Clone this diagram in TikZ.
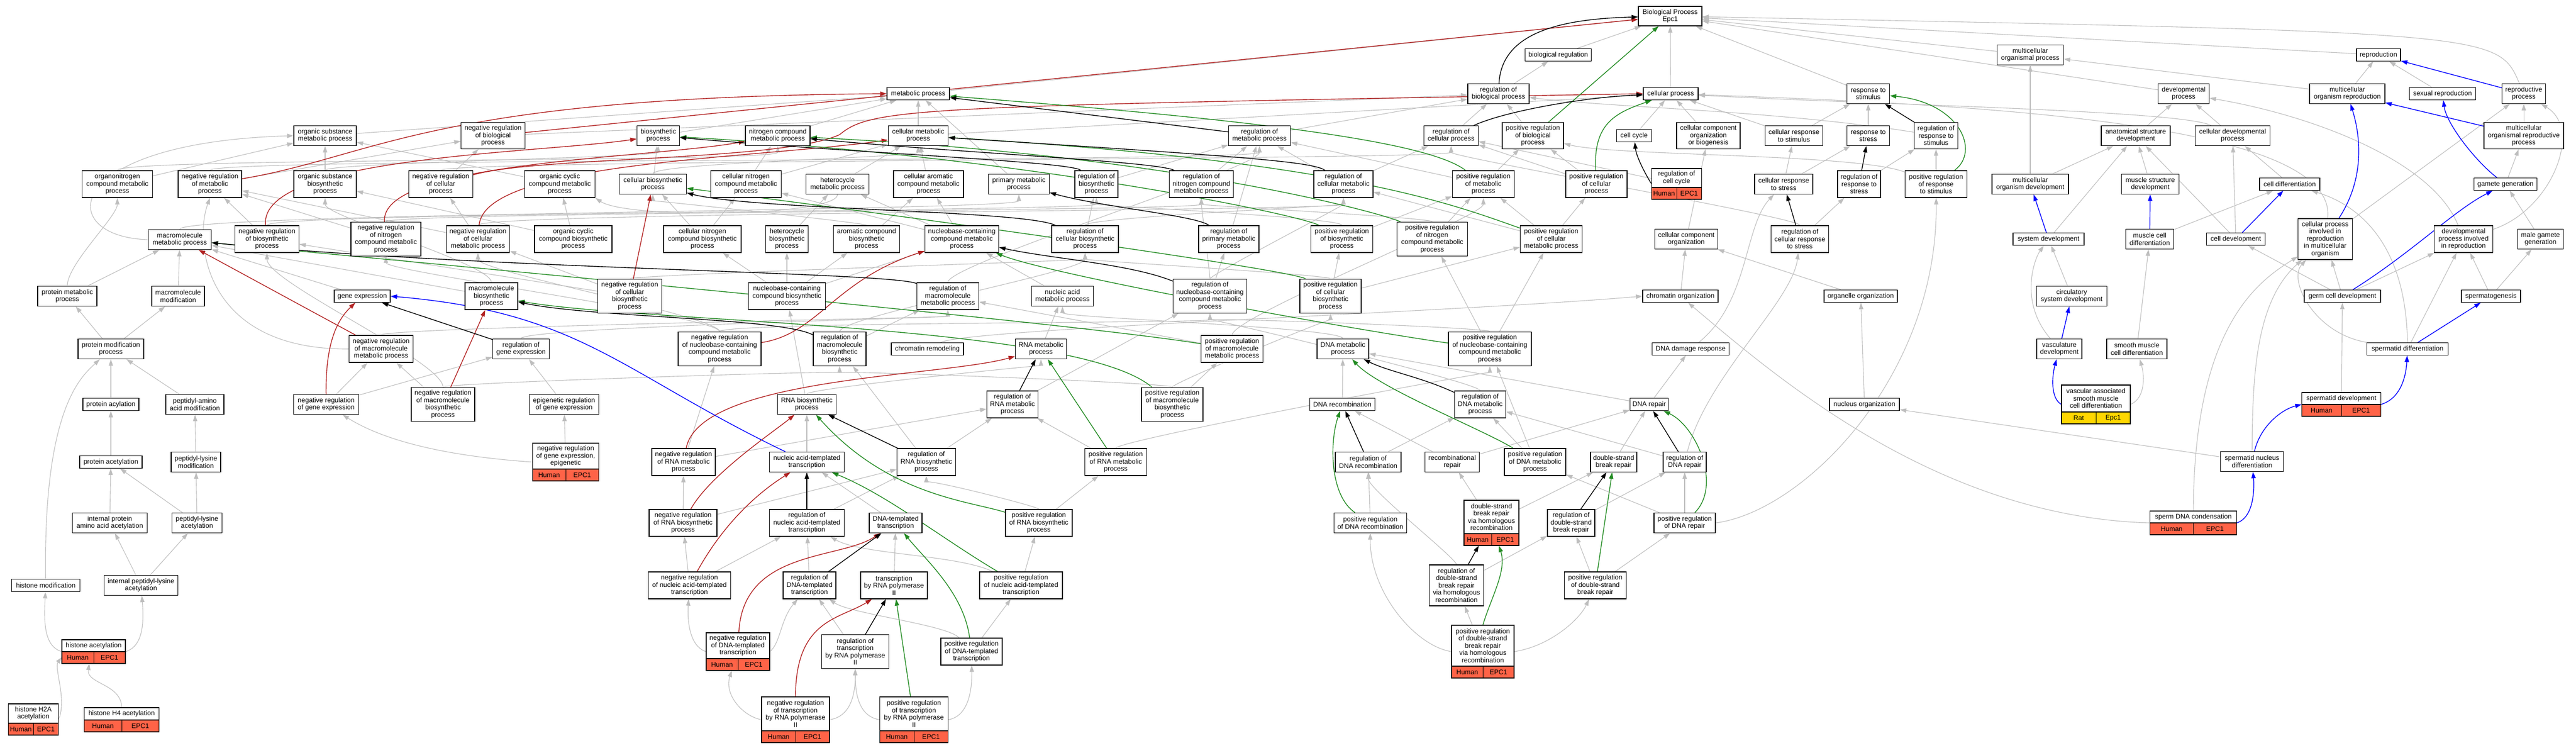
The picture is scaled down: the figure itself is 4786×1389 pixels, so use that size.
\documentclass[tikz,border=0pt]{standalone}
\usepackage{fontspec}
\setmainfont{Liberation Sans}
\usetikzlibrary{arrows.meta}
\pgfdeclarelayer{bg}
\pgfsetlayers{bg,main}
\definecolor{egray}{RGB}{190,190,190}
\definecolor{ered}{RGB}{178,34,34}
\definecolor{egreen}{RGB}{34,139,34}
\definecolor{eblue}{RGB}{0,0,255}
\definecolor{gtom}{RGB}{255,99,71}
\definecolor{ggold}{RGB}{255,215,0}
\newcommand\fs{\fontsize{12.5}{13.5}\selectfont}
\tikzset{
 gobox/.style={draw=black, line width=1.3pt, fill=white, inner sep=2pt, align=center, font=\fs},
 sgray/.style={draw=egray, line width=1.1pt, -{Triangle[length=12pt,width=8pt]}},
 sred/.style={draw=ered, line width=1.4pt, -{Triangle[length=12pt,width=8pt]}},
 sgreen/.style={draw=egreen, line width=1.4pt, -{Triangle[length=12pt,width=8pt]}},
 sblack/.style={draw=black, line width=1.4pt, -{Triangle[length=12pt,width=8pt]}},
 sblue/.style={draw=eblue, line width=1.4pt, -{Triangle[length=12pt,width=8pt]}},
}
\newcommand\nd[6]{\node[gobox,minimum width=#4,minimum height=#5] (#1) at (#2,#3) {#6};}
\newcommand\GN[9][gtom]{%
 \pgfmathsetmacro\gnH{#7-#6}%
 \pgfmathsetmacro\gnY{(#6+#7)/2}%
 \pgfmathsetmacro\gnS{#7-22}%
 \pgfmathsetmacro\gnL{#5-#8/2}%
 \pgfmathsetmacro\gnR{#5+#8/2}%
 \pgfmathsetmacro\gnT{(#6+#7-22)/2}%
 \pgfmathsetmacro\gnA{#5-#8/4}%
 \pgfmathsetmacro\gnB{#5+#8/4}%
 \pgfmathsetmacro\gnC{#7-11}%
 \node[inner sep=0,minimum width=#8,minimum height=\gnH] (#4) at (#5,\gnY) {};
 \fill[white] (\gnL,#6) rectangle (\gnR,\gnS);
 \fill[#1] (\gnL,\gnS) rectangle (\gnR,#7);
 \draw[line width=1.3pt] (\gnL,#6) rectangle (\gnR,#7);
 \draw[line width=1.3pt] (\gnL,\gnS) -- (\gnR,\gnS);
 \draw[line width=1pt] (#5,\gnS) -- (#5,#7);
 \node[font=\fs,align=center,inner sep=0] at (#5,\gnT) {#9};
 \node[font=\fs,inner sep=0] at (\gnA,\gnC) {#2};
 \node[font=\fs,inner sep=0] at (\gnB,\gnC) {#3};
}
\newcommand\eS[2]{\draw[sgray] (#1) -- (#2);}
\newcommand\eC[3]{\draw[sgray] (#1) .. controls +(0,-#3) and +(0,#3) .. (#2);}
\begin{document}
\begin{tikzpicture}[x=1pt,y=-1pt]
\useasboundingbox (0,0) rectangle (4786,1389);
% ---------------- nodes ----------------
\nd{BP}{3103}{30}{118}{36}{Biological Process\\Epc1}
\nd{breg}{2895}{102}{123}{23}{biological regulation}
\nd{mop}{3772}{102}{123}{37}{multicellular\\organismal process}
\nd{repro}{4419}{102}{82}{23}{reproduction}
\nd{metab}{1706}{174}{116}{23}{metabolic process}
\nd{regbp}{2784}{174}{114}{37}{regulation of\\biological process}
\nd{cellp}{3104}{174}{102}{23}{cellular process}
\nd{resp}{3471}{174}{79}{37}{response to\\stimulus}
\nd{dev}{4057}{174}{95}{37}{developmental\\process}
\nd{mor}{4361}{174}{140}{37}{multicellular\\organism reproduction}
\nd{sexr}{4538}{174}{123}{23}{sexual reproduction}
\nd{reprop}{4689}{174}{81}{37}{reproductive\\process}
\nd{osmp}{604}{252}{116}{37}{organic substance\\metabolic process}
\nd{nrbp}{916}{252}{119}{49}{negative regulation\\of biological\\process}
\nd{bios}{1223}{252}{79}{37}{biosynthetic\\process}
\nd{ncmp}{1445}{252}{120}{37}{nitrogen compound\\metabolic process}
\nd{cmp}{1706}{252}{111}{37}{cellular metabolic\\process}
\nd{regmp}{2340}{252}{115}{37}{regulation of\\metabolic process}
\nd{regcp}{2696}{252}{101}{37}{regulation of\\cellular process}
\nd{prbp}{2848}{252}{114}{49}{positive regulation\\of biological\\process}
\nd{cc}{3036}{252}{65}{23}{cell cycle}
\nd{ccob}{3174}{252}{118}{49}{cellular component\\organization\\or biogenesis}
\nd{crs}{3333}{252}{107}{37}{cellular response\\to stimulus}
\nd{rts}{3471}{252}{79}{37}{response to\\stress}
\nd{regrs}{3597}{252}{81}{49}{regulation of\\response to\\stimulus}
\nd{asd}{3968}{252}{128}{37}{anatomical structure\\development}
\nd{cdp}{4148}{252}{139}{37}{cellular developmental\\process}
\nd{morp}{4689}{252}{148}{49}{multicellular\\organismal reproductive\\process}
\nd{oncmp}{218}{342}{131}{50}{organonitrogen\\compound metabolic\\process}
\nd{nrmp}{390}{342}{118}{50}{negative regulation\\of metabolic\\process}
\nd{osbp}{604}{342}{116}{50}{organic substance\\biosynthetic\\process}
\nd{nrcp}{819}{342}{119}{50}{negative regulation\\of cellular\\process}
\nd{occmp}{1040}{342}{131}{50}{organic cyclic\\compound metabolic\\process}
\nd{cbp}{1213}{342}{125}{37}{cellular biosynthetic\\process}
\nd{cncmp}{1386}{342}{131}{50}{cellular nitrogen\\compound metabolic\\process}
\nd{hmp}{1556}{342}{117}{37}{heterocycle\\metabolic process}
\nd{cacmp}{1725}{342}{130}{50}{cellular aromatic\\compound metabolic\\process}
\nd{pmp}{1893}{342}{113}{37}{primary metabolic\\process}
\nd{regbio}{2037}{342}{80}{50}{regulation of\\biosynthetic\\process}
\nd{regncmp}{2232}{342}{119}{50}{regulation of\\nitrogen compound\\metabolic process}
\nd{regcmp}{2496}{342}{110}{50}{regulation of\\cellular metabolic\\process}
\nd{prmp}{2756}{342}{115}{50}{positive regulation\\of metabolic\\process}
\nd{prcp}{2966}{342}{114}{50}{positive regulation\\of cellular\\process}
\nd{crstress}{3314}{342}{108}{37}{cellular response\\to stress}
\nd{regrstress}{3454}{342}{80}{50}{regulation of\\response to\\stress}
\nd{prrs}{3597}{342}{115}{50}{positive regulation\\of response\\to stimulus}
\nd{mod}{3772}{342}{142}{37}{multicellular\\organism development}
\nd{msd}{3995}{342}{107}{37}{muscle structure\\development}
\nd{celldiff}{4254}{342}{112}{23}{cell differentiation}
\nd{gg}{4655}{342}{117}{23}{gamete generation}
\nd{mmp}{334}{445}{117}{37}{macromolecule\\metabolic process}
\nd{nrbio}{496}{444}{119}{50}{negative regulation\\of biosynthetic\\process}
\nd{nrncmp}{717}{444}{130}{63}{negative regulation\\of nitrogen\\compound metabolic\\process}
\nd{nrcmp}{888}{444}{117}{50}{negative regulation\\of cellular\\metabolic process}
\nd{occbp}{1065}{444}{144}{50}{organic cyclic\\compound biosynthetic\\process}
\nd{cncbp}{1305}{444}{144}{50}{cellular nitrogen\\compound biosynthetic\\process}
\nd{hbp}{1462}{444}{79}{50}{heterocycle\\biosynthetic\\process}
\nd{acbp}{1610}{444}{123}{50}{aromatic compound\\biosynthetic\\process}
\nd{nbcmp}{1787}{444}{137}{50}{nucleobase-containing\\compound metabolic\\process}
\nd{regcbp}{2016}{444}{124}{50}{regulation of\\cellular biosynthetic\\process}
\nd{regpmp}{2283}{444}{112}{50}{regulation of\\primary metabolic\\process}
\nd{prbio}{2493}{444}{115}{50}{positive regulation\\of biosynthetic\\process}
\nd{prncmp}{2661}{444}{131}{63}{positive regulation\\of nitrogen\\compound metabolic\\process}
\nd{prcmp}{2882}{444}{115}{50}{positive regulation\\of cellular\\metabolic process}
\nd{cco}{3133}{444}{117}{37}{cellular component\\organization}
\nd{regcrs}{3344}{444}{107}{50}{regulation of\\cellular response\\to stress}
\nd{sysdev}{3806}{444}{132}{23}{system development}
\nd{mcd}{3994}{444}{89}{37}{muscle cell\\differentiation}
\nd{celldev}{4154}{444}{109}{23}{cell development}
\nd{cpirmo}{4320}{444}{101}{76}{cellular process\\involved in\\reproduction\\in multicellular\\organism}
\nd{dpir}{4577}{444}{109}{50}{developmental\\process involved\\in reproduction}
\nd{mgg}{4720}{444}{85}{37}{male gamete\\generation}
\nd{protmp}{125}{550}{110}{37}{protein metabolic\\process}
\nd{mmod}{331}{550}{98}{37}{macromolecule\\modification}
\nd{geneexp}{673}{550}{104}{23}{gene expression}
\nd{mbp}{913}{550}{98}{50}{macromolecule\\biosynthetic\\process}
\nd{nrcbp}{1170}{550}{119}{63}{negative regulation\\of cellular\\biosynthetic\\process}
\nd{nbcbp}{1462}{550}{143}{50}{nucleobase-containing\\compound biosynthetic\\process}
\nd{regmmp}{1761}{550}{115}{50}{regulation of\\macromolecule\\metabolic process}
\nd{nacmp}{1974}{550}{115}{37}{nucleic acid\\metabolic process}
\nd{regnbcmp}{2248}{550}{137}{63}{regulation of\\nucleobase-containing\\compound metabolic\\process}
\nd{prcbp}{2472}{550}{114}{63}{positive regulation\\of cellular\\biosynthetic\\process}
\nd{chromorg}{3122}{550}{140}{23}{chromatin organization}
\nd{orgorg}{3457}{550}{136}{23}{organelle organization}
\nd{csd}{3849}{550}{131}{37}{circulatory\\system development}
\nd{gcd}{4352}{550}{142}{23}{germ cell development}
\nd{spg}{4628}{550}{110}{23}{spermatogenesis}
\nd{pmp2}{206}{648}{122}{37}{protein modification\\process}
\nd{nrmmp}{708}{648}{119}{50}{negative regulation\\of macromolecule\\metabolic process}
\nd{reggene}{968}{648}{105}{37}{regulation of\\gene expression}
\nd{nrnbcmp}{1337}{648}{154}{63}{negative regulation\\of nucleobase-containing\\compound metabolic\\process}
\nd{regmbp}{1560}{648}{98}{63}{regulation of\\macromolecule\\biosynthetic\\process}
\nd{chromrem}{1723}{648}{134}{23}{chromatin remodeling}
\nd{rnamp}{1934}{648}{95}{37}{RNA metabolic\\process}
\nd{prmmp}{2289}{648}{115}{50}{positive regulation\\of macromolecule\\metabolic process}
\nd{dnamp}{2495}{648}{96}{37}{DNA metabolic\\process}
\nd{prnbcmp}{2768}{648}{154}{63}{positive regulation\\of nucleobase-containing\\compound metabolic\\process}
\nd{dnadr}{3141}{648}{143}{23}{DNA damage response}
\nd{vascdev}{3826}{648}{84}{37}{vasculature\\development}
\nd{smcd}{3970}{648}{112}{37}{smooth muscle\\cell differentiation}
\nd{sptdiff}{4473}{648}{151}{23}{spermatid differentiation}
\nd{protacyl}{206}{751}{104}{23}{protein acylation}
\nd{pamod}{362}{751}{108}{37}{peptidyl-amino\\acid modification}
\nd{nrge}{606}{751}{121}{37}{negative regulation\\of gene expression}
\nd{nrmbp}{823}{751}{118}{63}{negative regulation\\of macromolecule\\biosynthetic\\process}
\nd{epireg}{1048}{751}{129}{37}{epigenetic regulation\\of gene expression}
\nd{rnabp}{1499}{751}{109}{37}{RNA biosynthetic\\process}
\nd{regrnamp}{1881}{751}{95}{50}{regulation of\\RNA metabolic\\process}
\nd{prmbp}{2178}{751}{114}{63}{positive regulation\\of macromolecule\\biosynthetic\\process}
\nd{dnarec}{2494}{751}{121}{23}{DNA recombination}
\nd{regdnamp}{2750}{751}{95}{50}{regulation of\\DNA metabolic\\process}
\nd{dnarep}{3064}{751}{71}{23}{DNA repair}
\nd{nucorg}{3464}{751}{130}{23}{nucleus organization}
\nd{protacet}{206}{858}{116}{23}{protein acetylation}
\nd{plmod}{364}{858}{92}{37}{peptidyl-lysine\\modification}
\nd{nrrnamp}{1270}{858}{118}{50}{negative regulation\\of RNA metabolic\\process}
\nd{natt}{1499}{858}{139}{37}{nucleic acid-templated\\transcription}
\nd{regrnabp}{1721}{858}{109}{50}{regulation of\\RNA biosynthetic\\process}
\nd{prrnamp}{2073}{858}{115}{50}{positive regulation\\of RNA metabolic\\process}
\nd{regdnarec}{2542}{858}{122}{37}{regulation of\\DNA recombination}
\nd{recrep}{2698}{858}{101}{37}{recombinational\\repair}
\nd{prdnamp}{2852}{858}{114}{50}{positive regulation\\of DNA metabolic\\process}
\nd{dsbr}{2998}{858}{86}{37}{double-strand\\break repair}
\nd{regdnarep}{3130}{858}{80}{37}{regulation of\\DNA repair}
\nd{sndiff}{4184}{857}{117}{37}{spermatid nucleus\\differentiation}
\nd{ipaaa}{204}{971}{139}{37}{internal protein\\amino acid acetylation}
\nd{placet}{366}{971}{93}{37}{peptidyl-lysine\\acetylation}
\nd{nrrnabp}{1269}{971}{126}{50}{negative regulation\\of RNA biosynthetic\\process}
\nd{regnatt}{1499}{971}{139}{50}{regulation of\\nucleic acid-templated\\transcription}
\nd{dnatt}{1664}{971}{98}{37}{DNA-templated\\transcription}
\nd{prrnabp}{1930}{971}{124}{50}{positive regulation\\of RNA biosynthetic\\process}
\nd{prdnarec}{2546}{971}{135}{37}{positive regulation\\of DNA recombination}
\nd{regdsbr}{2919}{971}{88}{50}{regulation of\\double-strand\\break repair}
\nd{prdnarep}{3130}{971}{114}{37}{positive regulation\\of DNA repair}
\nd{histmod}{85}{1087}{127}{23}{histone modification}
\nd{iplacet}{262}{1087}{137}{37}{internal peptidyl-lysine\\acetylation}
\nd{nrnatt}{1281}{1087}{153}{50}{negative regulation\\of nucleic acid-templated\\transcription}
\nd{regdnatt}{1504}{1087}{98}{50}{regulation of\\DNA-templated\\transcription}
\nd{trpol2}{1661}{1087}{124}{50}{transcription\\by RNA polymerase\\II}
\nd{prnatt}{1897}{1087}{154}{50}{positive regulation\\of nucleic acid-templated\\transcription}
\nd{regdsbrhr}{2706}{1087}{101}{76}{regulation of\\double-strand\\break repair\\via homologous\\recombination}
\nd{prdsbr}{2964}{1087}{115}{50}{positive regulation\\of double-strand\\break repair}
\nd{regtrpol2}{1589}{1210}{125}{63}{regulation of\\transcription\\by RNA polymerase\\II}
\nd{prdnatt}{1805}{1210}{114}{50}{positive regulation\\of DNA-templated\\transcription}
% gene-annotated nodes
\GN{Human}{EPC1}{regcc}{3115}{313}{370}{93}{regulation of\\cell cycle}
\GN{Human}{EPC1}{nrgeepi}{1051}{823}{893}{123}{negative regulation\\of gene expression,\\epigenetic}
\GN[ggold]{Rat}{Epc1}{vasmc}{3894}{715}{787}{128}{vascular associated\\smooth muscle\\cell differentiation}
\GN{Human}{EPC1}{sptdev}{4350}{729}{773}{147}{spermatid development}
\GN{Human}{EPC1}{dsbrhr}{2771}{929}{1013}{102}{double-strand\\break repair\\via homologous\\recombination}
\GN{Human}{EPC1}{sdc}{4075}{949}{993}{161}{sperm DNA condensation}
\GN{Human}{EPC1}{histacet}{174}{1188}{1232}{118}{histone acetylation}
\GN{Human}{EPC1}{nrdnatt}{1371}{1175}{1245}{118}{negative regulation\\of DNA-templated\\transcription}
\GN{Human}{EPC1}{prdsbrhr}{2755}{1161}{1259}{116}{positive regulation\\of double-strand\\break repair\\via homologous\\recombination}
\GN{Human}{EPC1}{h2a}{62}{1307}{1365}{93}{histone H2A\\acetylation}
\GN{Human}{EPC1}{h4}{226}{1314}{1359}{139}{histone H4 acetylation}
\GN{Human}{EPC1}{nrtrpol2}{1478}{1294}{1379}{126}{negative regulation\\of transcription\\by RNA polymerase\\II}
\GN{Human}{EPC1}{prtrpol2}{1698}{1294}{1379}{127}{positive regulation\\of transcription\\by RNA polymerase\\II}
% ---------------- edges ----------------
\begin{pgfonlayer}{bg}
\fill[white] (0,0) rectangle (4786,1389);
% grey: top
\eS{breg}{BP}\eS{cellp}{BP}\eS{resp}{BP}\eS{metab}{BP}\eS{mop}{BP}\eS{dev}{BP}\eS{repro}{BP}
\draw[sgray] (reprop) .. controls (4640,60) .. (BP);
\eS{regbp}{breg}\eS{mor}{repro}\eS{sexr}{repro}\eS{mor}{mop}
\eS{osmp}{metab}\eS{bios}{metab}\eS{ncmp}{metab}\eS{cmp}{metab}\eS{pmp}{metab}\eS{cmp}{cellp}
\eS{regmp}{regbp}\eS{regcp}{regbp}\eS{prbp}{regbp}\eS{nrbp}{regbp}
\draw[sgray] (regrs) .. controls (3300,205) and (3000,200) .. (regbp);
\eS{cc}{cellp}\eS{ccob}{cellp}\eS{crs}{cellp}\eS{crs}{resp}\eS{rts}{resp}
\draw[sgray] (cdp) .. controls (4050,205) and (3500,195) .. (cellp);
\eS{asd}{dev}\eS{cdp}{dev}\eS{morp}{reprop}
% grey: row 342
\eS{oncmp}{osmp}\eC{oncmp}{ncmp}{50}
\eC{nrmp}{regmp}{50}\eS{nrmp}{nrbp}
\eS{osbp}{osmp}\eC{osbp}{bios}{40}
\eC{nrcp}{regcp}{45}\eS{nrcp}{nrbp}
\eS{occmp}{osmp}\eS{cbp}{bios}\eC{cbp}{cmp}{40}
\eS{cncmp}{ncmp}\eS{cncmp}{cmp}\eS{hmp}{cmp}
\draw[sgray] (hmp.south) .. controls +(0,40) and +(60,40) .. (occmp.south east);
\eS{cacmp}{cmp}
\eS{regbio}{regmp}\eS{regncmp}{regmp}\eS{regcmp}{regmp}\eS{regcmp}{regcp}
\eS{prmp}{regmp}\eS{prmp}{prbp}\eS{prcp}{prbp}\eS{prcp}{regcp}\eS{regcc}{regcp}
\eS{crstress}{crs}\eS{crstress}{rts}\eS{regrstress}{regrs}\eS{prrs}{regrs}
\draw[sgray] (prrs) .. controls (3450,285) and (3000,290) .. (prbp);
\eS{mod}{mop}\eS{mod}{asd}\eS{msd}{asd}\eS{celldiff}{cdp}\eS{gg}{morp}
% grey: row 444
\draw[sgray] (mmp.west) .. controls (100,440) and (110,265) .. (osmp.west);
\eC{mmp}{pmp}{50}
\eS{nrbio}{nrmp}\eC{nrbio}{regbio}{50}
\eS{nrncmp}{nrmp}\eC{nrncmp}{regncmp}{50}
\eS{nrcmp}{nrcp}\eS{nrcmp}{nrmp}\eC{nrcmp}{regcmp}{50}
\eS{occbp}{occmp}\eS{occbp}{osbp}
\eS{cncbp}{cncmp}\eS{cncbp}{cbp}\eS{hbp}{hmp}
\eS{acbp}{cacmp}\eC{acbp}{cbp}{30}
\eS{nbcmp}{cncmp}\eS{nbcmp}{hmp}\eS{nbcmp}{cacmp}
\eS{regcbp}{regbio}\eC{regcbp}{regcmp}{40}\eS{regpmp}{regmp}
\eC{prbio}{regbio}{40}\eS{prbio}{prmp}
\eC{prncmp}{regncmp}{40}\eS{prncmp}{prmp}
\eS{prcmp}{prcp}\eS{prcmp}{prmp}\eS{prcmp}{regcmp}
\eS{cco}{ccob}\eS{regcrs}{regrstress}\eC{regcrs}{regcp}{40}
\eS{sysdev}{asd}\eS{mcd}{celldiff}\eS{celldev}{asd}\eS{celldev}{cdp}
\draw[sgray] (cpirmo) .. controls (4345,230) and (3700,195) .. (cellp);
\eS{cpirmo}{reprop}
\draw[sgray] (dpir) .. controls (4520,300) and (4300,215) .. (dev);
\draw[sgray] (dpir) .. controls (4740,390) and (4800,240) .. (reprop);
\eS{mgg}{gg}
% grey: row 550
\eS{protmp}{mmp}\eC{protmp}{oncmp}{60}
\eS{mmod}{mmp}\eS{geneexp}{mmp}\eS{mbp}{mmp}\eC{mbp}{osbp}{60}
\eS{nrcbp}{nrbio}\eS{nrcbp}{nrcmp}\eC{nrcbp}{regcbp}{40}
\eS{nbcbp}{cncbp}\eS{nbcbp}{hbp}\eS{nbcbp}{acbp}\eS{nbcbp}{nbcmp}
\eC{regmmp}{regmp}{60}\eS{nacmp}{nbcmp}
\eS{regnbcmp}{regpmp}\eC{regnbcmp}{regcmp}{40}\eC{regnbcmp}{regncmp}{40}
\eS{prcbp}{prbio}\eS{prcbp}{prcmp}\eC{prcbp}{regcbp}{40}
\eS{chromorg}{cco}\eS{orgorg}{cco}\eS{csd}{sysdev}
\eS{gcd}{celldev}\eS{gcd}{cpirmo}\eS{gcd}{dpir}\eS{spg}{dpir}\eS{spg}{mgg}
% grey: row 648
\eS{pmp2}{mmod}\eS{pmp2}{protmp}
\draw[sgray] (nrmmp.west) .. controls (380,650) and (360,450) .. (nrmp.south);
\eC{nrmmp}{regmmp}{40}\eC{reggene}{regmmp}{40}
\eC{nrnbcmp}{nrncmp}{60}\eC{nrnbcmp}{nrcmp}{60}\eC{nrnbcmp}{regnbcmp}{50}
\eS{regmbp}{regmmp}\eC{regmbp}{regcbp}{60}
\draw[sgray] (chromrem) .. controls (1800,610) and (2700,580) .. (chromorg.west);
\eS{rnamp}{nacmp}\eS{prmmp}{regmmp}\eC{prmmp}{prmp}{60}
\eC{dnamp}{nacmp}{40}
\eC{prnbcmp}{regnbcmp}{40}\eS{prnbcmp}{prcmp}\eS{prnbcmp}{prncmp}
\draw[sgray] (dnadr) .. controls (3250,560) and (3240,420) .. (crstress);
\draw[sgray] (vascdev) .. controls (3750,560) and (3780,480) .. (sysdev);
\eS{smcd}{mcd}
\draw[sgray] (sptdiff) .. controls (4470,450) and (4380,380) .. (celldiff);
\draw[sgray] (sptdiff) .. controls (4300,620) and (4250,520) .. (cpirmo);
\eS{sptdiff}{dpir}
% grey: row 751
\eS{protacyl}{pmp2}\eS{pamod}{pmp2}\eS{nrge}{reggene}\eS{nrge}{nrmmp}
\eS{nrmbp}{nrmmp}\eC{nrmbp}{nrbio}{80}\eC{nrmbp}{regmbp}{40}
\eS{epireg}{reggene}\eS{rnabp}{nbcbp}\eC{rnabp}{rnamp}{30}
\eS{regrnamp}{regnbcmp}\eS{prmbp}{prmmp}\eC{prmbp}{regmbp}{40}\eC{prmbp}{prcbp}{40}
\eS{dnarec}{dnamp}\eC{regdnamp}{regnbcmp}{40}\eS{dnarep}{dnamp}\eS{dnarep}{dnadr}
\eS{nucorg}{orgorg}
\draw[sgray] (vasmc.east) .. controls (3985,740) and (3985,700) .. (smcd);
\eS{sptdev}{gcd}
% grey: row 858
\eS{protacet}{protacyl}\eS{plmod}{pamod}\eS{nrgeepi}{epireg}
\draw[sgray] (nrgeepi.west) .. controls (800,845) and (700,810) .. (nrge);
\eS{nrrnamp}{nrnbcmp}\eS{nrrnamp}{regrnamp}\eS{natt}{rnabp}
\eS{regrnabp}{regrnamp}\eS{regrnabp}{regmbp}\eS{prrnamp}{regrnamp}\eC{prrnamp}{prnbcmp}{40}
\eS{regdnarec}{regdnamp}\eS{recrep}{dnarec}\eS{recrep}{dnarep}
\eS{prdnamp}{regdnamp}\eS{prdnamp}{prnbcmp}\eS{dsbr}{dnarep}\eS{regdnarep}{regdnamp}
\draw[sgray] (regdnarep) .. controls (3170,700) and (3330,560) .. (regcrs);
\draw[sgray] (sndiff) .. controls (4185,700) and (4190,560) .. (cpirmo);
\eS{sndiff}{nucorg}
% grey: row 971
\eS{ipaaa}{protacet}\eS{placet}{plmod}\eS{placet}{protacet}
\eS{nrrnabp}{nrrnamp}\eS{nrrnabp}{regrnabp}\eS{regnatt}{regrnabp}\eS{dnatt}{natt}
\eS{prrnabp}{prrnamp}\eC{prrnabp}{regrnabp}{30}\eS{prdnarec}{regdnarec}
\eS{dsbrhr}{recrep}\eS{dsbrhr}{dsbr}\eS{regdsbr}{regdnarep}
\eS{prdnarep}{regdnarep}\eS{prdnarep}{prdnamp}
\draw[sgray] (prdnarep.east) .. controls (3350,950) and (3600,700) .. (prrs);
\draw[sgray] (sdc) .. controls (4076,600) and (4200,520) .. (cpirmo);
\draw[sgray] (sdc.west) .. controls (3600,960) and (3300,700) .. (chromorg);
% grey: row 1087
\draw[sgray] (histmod) .. controls (80,760) and (150,700) .. (pmp2);
\eS{iplacet}{ipaaa}\eS{iplacet}{placet}
\eS{nrnatt}{nrrnabp}\eS{nrnatt}{regnatt}\eS{regdnatt}{regnatt}\eS{trpol2}{dnatt}
\eS{prnatt}{prrnabp}
\draw[sgray] (prnatt) .. controls (1780,1030) and (1600,1030) .. (regnatt);
\eS{regdsbrhr}{regdsbr}\eC{regdsbrhr}{regdnarec}{50}
\eS{prdsbr}{regdsbr}\eS{prdsbr}{prdnarep}
% grey: row 1210
\draw[sgray] (histacet.west) .. controls (80,1200) and (82,1150) .. (histmod);
\draw[sgray] (histacet.east) .. controls (268,1200) and (267,1150) .. (iplacet);
\draw[sgray] (nrdnatt.west) .. controls (1280,1200) and (1277,1150) .. (nrnatt);
\draw[sgray] (nrdnatt.east) .. controls (1450,1195) and (1450,1150) .. (regdnatt);
\eS{regtrpol2}{regdnatt}
\draw[sgray] (prdnatt) .. controls (1760,1160) and (1580,1140) .. (regdnatt);
\eS{prdnatt}{prnatt}
\draw[sgray] (prdsbrhr.west) .. controls (2630,1200) and (2545,1100) .. (prdnarec);
\draw[sgray] (prdsbrhr.east) .. controls (2880,1200) and (2935,1150) .. (prdsbr);
\eS{prdsbrhr}{regdsbrhr}
% grey: bottom row
\draw[sgray] (h2a.east) .. controls (125,1300) and (100,1240) .. (histacet.190);
\draw[sgray] (h4.north) .. controls (226,1270) and (160,1270) .. (histacet.-110);
\draw[sgray] (nrtrpol2.west) .. controls (1380,1330) and (1345,1290) .. (nrdnatt);
\draw[sgray] (nrtrpol2.east) .. controls (1585,1330) and (1589,1280) .. (regtrpol2);
\draw[sgray] (prtrpol2.west) .. controls (1592,1330) and (1589,1280) .. (regtrpol2);
\draw[sgray] (prtrpol2.east) .. controls (1800,1330) and (1806,1280) .. (prdnatt);
% red
\draw[sred] (nrbp) -- (BP);
\draw[sred] (nrmp) .. controls (700,290) and (800,180) .. (metab.west);
\draw[sred] (nrbio) .. controls (480,290) and (1000,285) .. (bios);
\draw[sred] (nrncmp) .. controls (705,300) and (1200,295) .. (ncmp);
\draw[sred] (nrcp) .. controls (1000,290) and (1450,300) .. (1560,250) .. controls (1620,200) and (1700,197) .. (cellp.west);
\draw[sred] (nrcmp) .. controls (900,300) and (1400,295) .. (cmp);
\draw[sred] (nrcbp) -- (cbp);
\draw[sred] (nrmmp) -- (mmp);
\draw[sred] (nrge) .. controls (605,650) and (620,600) .. (geneexp);
\draw[sred] (nrmbp) -- (mbp);
\draw[sred] (nrnbcmp) .. controls (1520,620) and (1550,520) .. (nbcmp);
\draw[sred] (nrrnamp) .. controls (1300,700) and (1750,700) .. (rnamp);
\draw[sred] (nrrnabp) .. controls (1320,880) and (1440,800) .. (rnabp);
\draw[sred] (nrnatt) .. controls (1340,980) and (1400,920) .. (natt);
\draw[sred] (nrdnatt) .. controls (1380,1020) and (1560,1040) .. (dnatt);
\draw[sred] (nrtrpol2) .. controls (1478,1150) and (1560,1150) .. (trpol2);
% green
\draw[sgreen] (prbp) -- (BP);
\draw[sgreen] (prcp) .. controls (2960,230) and (3000,210) .. (cellp);
\draw[sgreen] (prmp) .. controls (2650,260) and (2300,220) .. (metab);
\draw[sgreen] (prcmp) .. controls (2700,380) and (2500,300) .. (cmp);
\draw[sgreen] (prncmp) .. controls (2580,400) and (2200,290) .. (ncmp);
\draw[sgreen] (prbio) .. controls (2420,400) and (1900,290) .. (bios);
\draw[sgreen] (prcbp) .. controls (2400,500) and (1600,390) .. (cbp);
\draw[sgreen] (prmmp) .. controls (2000,600) and (800,490) .. (mmp);
\draw[sgreen] (prmbp) .. controls (2000,600) and (1200,600) .. (mbp);
\draw[sgreen] (prnbcmp) .. controls (2500,610) and (1950,510) .. (nbcmp);
\draw[sgreen] (prrnamp) -- (rnamp);
\draw[sgreen] (prrnabp) .. controls (1800,930) and (1650,920) .. (rnabp);
\draw[sgreen] (prnatt) .. controls (1750,1000) and (1650,920) .. (natt);
\draw[sgreen] (prdnatt) .. controls (1790,1100) and (1720,1040) .. (dnatt);
\draw[sgreen] (prtrpol2) -- (trpol2);
\draw[sgreen] (prdnamp) .. controls (2760,800) and (2560,720) .. (dnamp);
\draw[sgreen] (prdnarec) .. controls (2470,920) and (2470,820) .. (dnarec);
\draw[sgreen] (prdnarep) .. controls (3200,900) and (3150,790) .. (dnarep);
\draw[sgreen] (prdsbr) -- (dsbr);
\draw[sgreen] (prdsbrhr.north) .. controls (2770,1110) and (2800,1060) .. (dsbrhr);
\draw[sgreen] (prrs) .. controls (3680,280) and (3640,190) .. (resp);
% black
\draw[sblack] (regbp) .. controls (2790,60) and (2900,35) .. (BP);
\draw[sblack] (regcp) .. controls (2800,205) and (2950,180) .. (cellp);
\draw[sblack] (regmp) -- (metab);
\draw[sblack] (regcmp) .. controls (2440,300) and (2300,290) .. (cmp);
\draw[sblack] (regbio) .. controls (1990,300) and (1600,285) .. (bios);
\draw[sblack] (regncmp) .. controls (2150,300) and (1800,285) .. (ncmp);
\draw[sblack] (regpmp) .. controls (2220,400) and (2050,385) .. (pmp);
\draw[sblack] (regcbp) .. controls (1900,390) and (1400,390) .. (cbp);
\draw[sblack] (regmmp) .. controls (1650,505) and (900,500) .. (mmp);
\draw[sblack] (regmbp) .. controls (1450,590) and (1100,590) .. (mbp);
\draw[sblack] (reggene) -- (geneexp);
\draw[sblack] (regnbcmp) .. controls (2100,490) and (1950,480) .. (nbcmp);
\draw[sblack] (regrnamp) -- (rnamp);
\draw[sblack] (regrnabp) -- (rnabp);
\draw[sblack] (regnatt) -- (natt);
\draw[sblack] (regdnatt) -- (dnatt);
\draw[sblack] (regtrpol2) -- (trpol2);
\draw[sblack] (regdnamp) .. controls (2640,700) and (2580,690) .. (dnamp);
\draw[sblack] (regdnarec) -- (dnarec);
\draw[sblack] (regdnarep) -- (dnarep);
\draw[sblack] (regdsbr) -- (dsbr);
\draw[sblack] (regdsbrhr) -- (dsbrhr);
\draw[sblack] (regcc.west) .. controls (3055,320) and (3040,290) .. (cc);
\draw[sblack] (regrstress) -- (rts);
\draw[sblack] (regcrs) -- (crstress);
\draw[sblack] (regrs) -- (resp);
% blue
\draw[sblue] (natt) .. controls (1150,690) and (1080,580) .. (geneexp.east);
\draw[sblue] (reprop) -- (repro);
\draw[sblue] (morp) -- (mor);
\draw[sblue] (sysdev) -- (mod);
\draw[sblue] (mcd) -- (msd);
\draw[sblue] (celldev) -- (celldiff);
\draw[sblue] (cpirmo) .. controls (4395,330) and (4385,250) .. (mor);
\draw[sblue] (gg) .. controls (4600,300) and (4545,230) .. (sexr);
\draw[sblue] (gcd) .. controls (4480,470) and (4560,390) .. (gg);
\draw[sblue] (sptdiff) -- (spg);
\draw[sblue] (sptdev.east) .. controls (4460,740) and (4470,700) .. (sptdiff);
\draw[sblue] (sndiff) .. controls (4200,790) and (4240,760) .. (sptdev.west);
\draw[sblue] (sdc.east) .. controls (4190,960) and (4188,900) .. (sndiff);
\draw[sblue] (vasmc.west) .. controls (3810,740) and (3812,700) .. (vascdev);
\draw[sblue] (vascdev) -- (csd);
\end{pgfonlayer}
\end{tikzpicture}
\end{document}
